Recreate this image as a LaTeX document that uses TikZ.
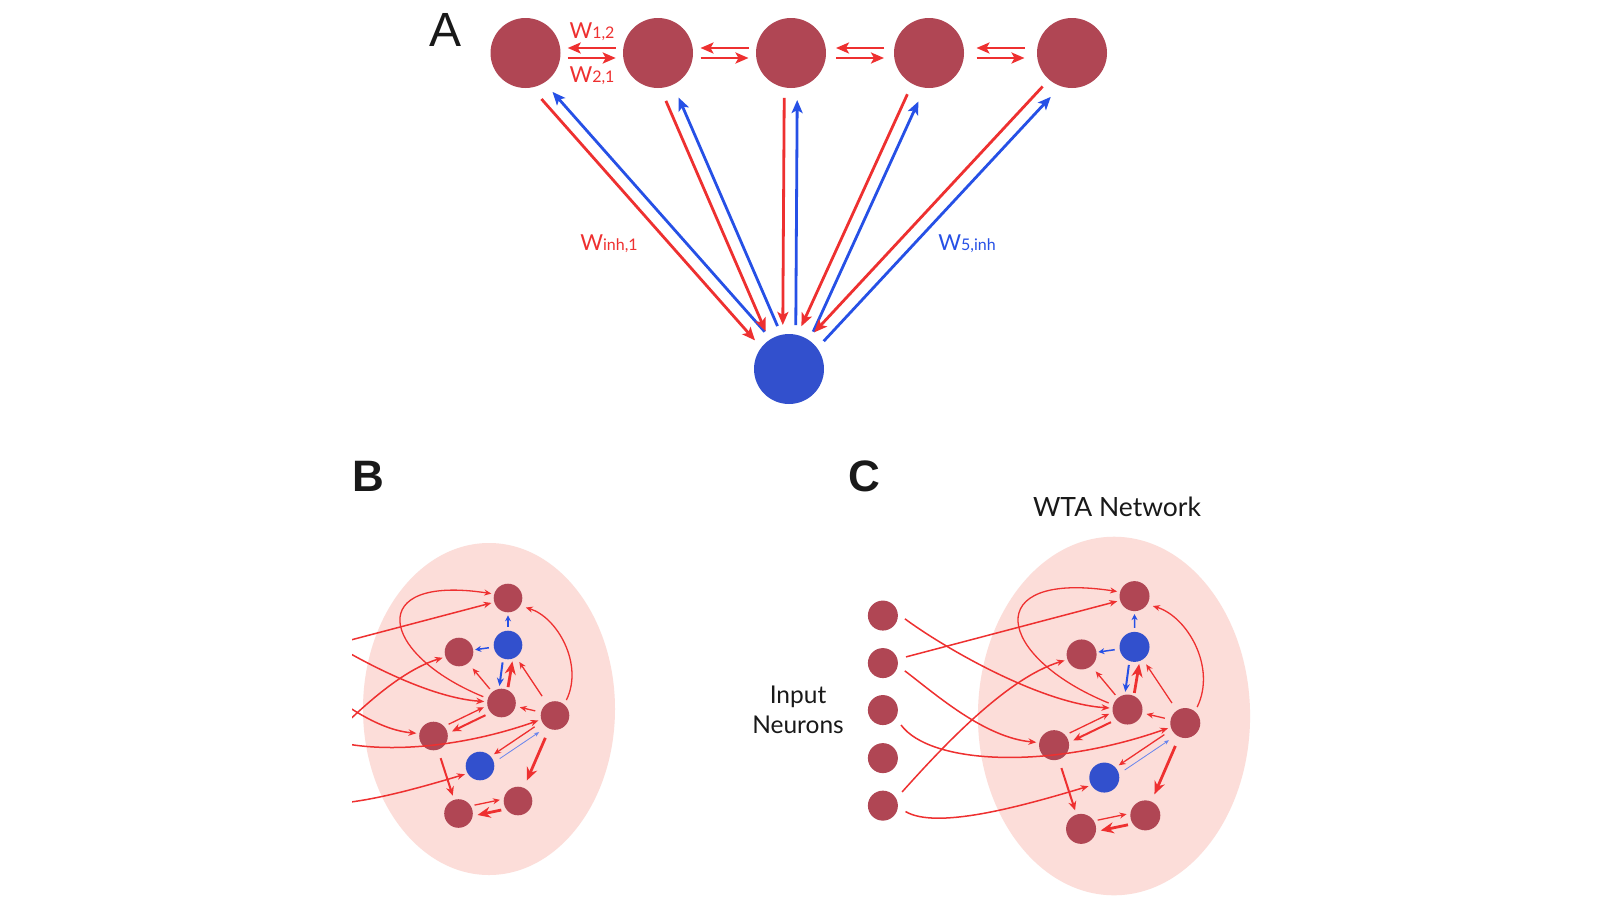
\documentclass[tikz,border=0pt]{standalone}
\usepackage{fontspec}
\setmainfont{Lato}
\newfontfamily\lettfont{Liberation Sans}
\usetikzlibrary{arrows.meta,calc}
\definecolor{neur}{RGB}{176,70,84}
\definecolor{bneur}{RGB}{50,80,205}
\definecolor{ared}{RGB}{238,48,48}
\definecolor{ablue}{RGB}{38,80,230}
\definecolor{wtabg}{RGB}{252,221,217}
\definecolor{txt}{RGB}{25,25,25}

\newcommand\wlab[2]{{\fontsize{22}{22}\selectfont #1}{\fontsize{16}{16}\selectfont #2}}

\tikzset{
 neuron/.style={circle,fill=neur,minimum size=28.6pt,inner sep=0pt,outer sep=0pt},
 bneuron/.style={neuron,fill=bneur},
 bigneuron/.style={circle,fill=neur,minimum size=70pt,inner sep=0pt,outer sep=0pt},
 extarr/.style={draw=ared,line width=1.5pt,-{Stealth[length=8pt,width=6.5pt]},shorten <=9pt,shorten >=3pt},
 thinarr/.style={draw=ared,line width=1.3pt,-{Stealth[length=7pt,width=6pt]}},
 medarr/.style={draw=ared,line width=2pt,-{Stealth[length=9pt,width=8pt]}},
 rthick/.style={draw=ared,line width=2.8pt,-{Stealth[length=13pt,width=11pt]}},
 bsmall/.style={draw=ablue,line width=1.5pt,-{Stealth[length=6pt,width=6pt]}},
 bmed/.style={draw=ablue,line width=2pt,-{Stealth[length=8pt,width=7pt]}},
 bthin/.style={draw=ablue!70,line width=0.8pt,-{Stealth[length=5pt,width=4pt]}},
 aR/.style={draw=ared,line width=2.8pt,-{Stealth[length=13pt,width=11pt,inset=3pt]}},
 aB/.style={aR,draw=ablue},
 wl/.style={anchor=base,inner sep=0pt},
}

\newcommand\wtanet[1]{%
  \fill[wtabg] (0,0) ellipse [x radius=126,y radius=166];
  \node[neuron] (#1I1) at (-214,-93) {};
  \node[neuron] (#1I2) at (-214,-49) {};
  \node[neuron] (#1I3) at (-214,-5.5) {};
  \node[neuron] (#1I4) at (-214,39) {};
  \node[neuron] (#1I5) at (-214,83) {};
  \node[neuron] (#1T) at (19,-111) {};
  \node[bneuron] (#1U) at (19,-64) {};
  \node[neuron] (#1L2) at (-30,-57) {};
  \node[neuron] (#1M) at (12.5,-6) {};
  \node[neuron] (#1R) at (66,6.5) {};
  \node[neuron] (#1L) at (-55.5,27) {};
  \node[bneuron] (#1V) at (-9,57) {};
  \node[neuron] (#1BR) at (29,92) {};
  \node[neuron] (#1BL) at (-30.5,104.5) {};
  \draw[extarr] (#1I1.8) .. controls (-160,-65) and (-70,-12) .. (#1M.175);
  \draw[extarr] (#1I2.15) -- (#1T.197);
  \draw[extarr] (#1I2.-9) .. controls (-165,-20) and (-120,20) .. (#1L.170);
  \draw[extarr] (#1I3.-31) .. controls (-170,45) and (-60,50) .. (#1R.196);
  \draw[extarr] (#1I5.28) .. controls (-160,30) and (-100,-35) .. (#1L2.200);
  \draw[extarr] (#1I5.-5) .. controls (-165,105) and (-90,85) .. (#1V.211);
  \draw[thinarr,shorten <=5pt,shorten >=3pt] (#1M.162) .. controls (-110,-55) and (-125,-135) .. (#1T.164);
  \draw[thinarr,shorten <=5pt,shorten >=6pt] (#1R.50) .. controls (95,-45) and (68,-92) .. (#1T.-33);
  \draw[bsmall,shorten <=4pt,shorten >=3pt] (#1U) -- (#1T);
  \draw[bsmall,shorten <=5pt,shorten >=2pt] (#1U) -- (#1L2);
  \draw[bmed,shorten <=4pt,shorten >=3pt] (#1U.250) -- (#1M.100);
  \draw[rthick,shorten <=3pt,shorten >=3pt] (#1M.65) -- (#1U.290);
  \draw[thinarr,shorten <=4pt,shorten >=7pt] (#1M) -- (#1L2);
  \draw[thinarr,shorten <=9pt,shorten >=6pt] (#1R) -- (#1U);
  \draw[thinarr,shorten <=6pt,shorten >=4.5pt] (#1R) -- (#1M);
  \draw[thinarr,shorten <=5pt,shorten >=4pt] (#1L.42) -- (#1M.190);
  \draw[medarr,shorten <=6pt,shorten >=5pt] (#1M.222) -- (#1L.10);
  \draw[thinarr,shorten <=9pt,shorten >=4pt] (#1R.206) -- (#1V.42);
  \draw[bthin,shorten <=7pt,shorten >=9pt] (#1V.14) -- (#1R.234);
  \draw[rthick,shorten <=10pt,shorten >=8pt] (#1R) -- (#1BR);
  \draw[medarr,shorten <=9pt,shorten >=4.5pt] (#1L) -- (#1BL);
  \draw[thinarr,shorten <=4pt,shorten >=4pt] (#1BL.32) -- (#1BR.172);
  \draw[rthick,shorten <=5pt,shorten >=5pt] (#1BR.214) -- (#1BL.-10);
}

\begin{document}
\begin{tikzpicture}[x=1pt,y=-1pt]
\useasboundingbox (0,0) rectangle (1600,900);
\fill[white] (0,0) rectangle (1600,900);

% ---------------- Panel A
\node[font=\lettfont\fontsize{48}{48}\selectfont,text=txt] (lA) at (446,30) {A};
\node[bigneuron] (t1) at (525.5,53) {};
\node[bigneuron] (t2) at (658,53) {};
\node[bigneuron] (t3) at (791,53) {};
\node[bigneuron] (t4) at (929,53) {};
\node[bigneuron] (t5) at (1072,53) {};
\node[bigneuron,fill=bneur] (inh) at (789,369) {};

\foreach \p/\q/\s in {1/2/7.25,2/3/7.5,3/4/10,4/5/12.5}{
  \draw[aR,shorten <=\s pt,shorten >=\s pt] ([yshift=5pt]t\q.west) -- ([yshift=5pt]t\p.east);
  \draw[aR,shorten <=\s pt,shorten >=\s pt] ([yshift=-5pt]t\p.east) -- ([yshift=-5pt]t\q.west);
}
\foreach \k/\sx/\sy in {1/-9/-8,2/-4/-4,3/0/0,4/3/-3,5/6/-5}{
  \draw[aR,shorten <=45pt,shorten >=44pt] ($([xshift=\sx pt,yshift=\sy pt]t\k)!6.5pt!-90:(inh)$) -- ($(inh)!6.5pt!90:([xshift=\sx pt,yshift=\sy pt]t\k)$);
  \draw[aB,shorten <=44pt,shorten >=47pt] ($(inh)!6.5pt!-90:([xshift=\sx pt,yshift=\sy pt]t\k)$) -- ($([xshift=\sx pt,yshift=\sy pt]t\k)!6.5pt!90:(inh)$);
}
\node[wl,text=ared] (w12) at (592,38) {\wlab{W}{1,2}};
\node[wl,text=ared] (w21) at (592,82.5) {\wlab{W}{2,1}};
\node[wl,text=ared] (winh) at (609,250) {\wlab{W}{inh,1}};
\node[wl,text=ablue] (w5) at (967,250) {\wlab{W}{5,inh}};

% ---------------- Panel B
\node[font=\lettfont\bfseries\fontsize{44}{44}\selectfont,text=txt] (lB) at (368,476) {B};
\begin{scope}[shift={(489,709)}]
  \clip (-137,-200) rectangle (200,200);
  \wtanet{B}
\end{scope}

% ---------------- Panel C
\node[font=\lettfont\bfseries\fontsize{44}{44}\selectfont,text=txt] (lC) at (864,476) {C};
\begin{scope}[shift={(1114,716)},scale=1.08,neuron/.append style={minimum size=30pt}]
  \wtanet{C}
\end{scope}
\node[font=\fontsize{26.5}{26.5}\selectfont,text=txt] (wta) at (1117,507) {WTA Network};
\node[font=\fontsize{24.5}{30}\selectfont,text=txt,align=center] (inlab) at (798,709.5) {Input\\Neurons};
\end{tikzpicture}
\end{document}
